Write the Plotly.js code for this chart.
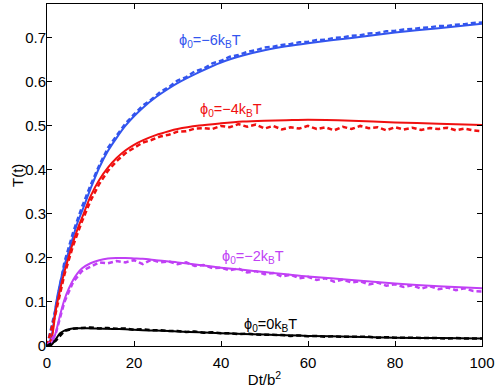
<!DOCTYPE html>
<html>
<head>
<meta charset="utf-8">
<script src="https://cdn.plot.ly/plotly-3.0.1.min.js"></script>
<style>
  body { margin: 0; padding: 0; background: #fff; }
  #graph { width: 498px; height: 388px; }
</style>
</head>
<body>
<div id="graph"></div>
<script>
// theory curves (solid)
var tFit = [0,1,2,3,4,5,6,7,8,10,12,14,16,18,20,22,25,28,30,35,40,45,50,55,60,70,80,90,100];
var fit6 = [0,0.02,0.092,0.143,0.183,0.215,0.248,0.28,0.305,0.357,0.405,0.443,0.473,0.5,0.522,0.541,0.565,0.585,0.597,0.622,0.644,0.66,0.672,0.681,0.688,0.70,0.712,0.722,0.732];
var fit4 = [0,0.015,0.08,0.128,0.168,0.203,0.236,0.265,0.29,0.34,0.377,0.405,0.427,0.444,0.457,0.467,0.479,0.488,0.493,0.501,0.506,0.51,0.512,0.513,0.514,0.512,0.508,0.505,0.502];
var fit2 = [0,0.005,0.03,0.07,0.105,0.13,0.15,0.165,0.176,0.188,0.195,0.199,0.2,0.2,0.199,0.198,0.195,0.192,0.19,0.184,0.178,0.173,0.168,0.163,0.158,0.15,0.142,0.136,0.131];
var fit0 = [0,0.002,0.015,0.029,0.035,0.038,0.04,0.0405,0.0405,0.04,0.0395,0.039,0.0385,0.038,0.037,0.036,0.035,0.034,0.033,0.031,0.029,0.0275,0.026,0.0245,0.023,0.021,0.019,0.018,0.017];

// simulation data (dashed)
var tSim = [0,2,4,6,8,10,12,14,16,18,20,22,24,26,28,30,32,34,36,38,40,42,44,46,48,50,52,54,56,58,60,62,64,66,68,70,72,74,76,78,80,82,84,86,88,90,92,94,96,98,100];
var sim6 = [0,0.085,0.19,0.258,0.315,0.365,0.41,0.45,0.478,0.505,0.526,0.546,0.56,0.577,0.588,0.603,0.611,0.624,0.63,0.642,0.648,0.657,0.661,0.668,0.672,0.678,0.68,0.684,0.686,0.69,0.691,0.695,0.696,0.7,0.701,0.705,0.706,0.71,0.711,0.715,0.716,0.719,0.72,0.723,0.724,0.727,0.727,0.73,0.731,0.734,0.735];
var sim4 = [0,0.075,0.162,0.228,0.282,0.33,0.368,0.398,0.42,0.438,0.45,0.462,0.468,0.476,0.48,0.487,0.488,0.494,0.495,0.493,0.5,0.497,0.504,0.498,0.503,0.494,0.5,0.492,0.497,0.494,0.5,0.493,0.497,0.49,0.498,0.493,0.5,0.495,0.497,0.49,0.497,0.492,0.496,0.491,0.495,0.493,0.496,0.49,0.494,0.49,0.488];
var sim2 = [0,0.028,0.1,0.145,0.17,0.18,0.19,0.188,0.193,0.19,0.195,0.186,0.196,0.19,0.192,0.186,0.19,0.182,0.184,0.177,0.178,0.172,0.176,0.167,0.17,0.163,0.166,0.158,0.162,0.154,0.157,0.15,0.154,0.146,0.151,0.144,0.147,0.14,0.144,0.137,0.14,0.134,0.138,0.13,0.136,0.129,0.133,0.127,0.131,0.125,0.124];
var sim0 = [0,0.012,0.034,0.039,0.041,0.042,0.04,0.041,0.039,0.04,0.037,0.038,0.036,0.036,0.034,0.034,0.032,0.033,0.03,0.031,0.029,0.029,0.027,0.028,0.026,0.026,0.025,0.025,0.023,0.024,0.022,0.023,0.021,0.022,0.021,0.021,0.02,0.021,0.019,0.02,0.019,0.019,0.018,0.019,0.018,0.018,0.017,0.018,0.017,0.017,0.017];

var labels = ['ϕ<sub>0</sub>=−6k<sub>B</sub>T', 'ϕ<sub>0</sub>=−4k<sub>B</sub>T', 'ϕ<sub>0</sub>=−2k<sub>B</sub>T', 'ϕ<sub>0</sub>=0k<sub>B</sub>T'];
var labelX = [29.9, 34.7, 39.8, 44.8];
var labelY = [0.692, 0.536, 0.203, 0.048];
var colors = ['#3355ee', '#f01010', '#c040f5', '#000000'];

var fits = [fit6, fit4, fit2, fit0];
var sims = [sim6, sim4, sim2, sim0];

var traces = [];
for (var i = 0; i < 4; i++) {
  traces.push({
    x: tSim, y: sims[i], type: 'scatter', mode: 'lines',
    line: {color: colors[i], width: 2.5, dash: '5px,3px'},
    hoverinfo: 'none'
  });
  traces.push({
    x: tFit, y: fits[i], type: 'scatter', mode: 'lines',
    line: {color: colors[i], width: 2, shape: 'spline', smoothing: 0.8},
    hoverinfo: 'none'
  });
}

var annots = [];
for (var j = 0; j < 4; j++) {
  annots.push({
    x: labelX[j], y: labelY[j], xref: 'x', yref: 'y',
    text: labels[j], showarrow: false,
    xanchor: 'left', yanchor: 'middle',
    font: {family: 'Liberation Sans, Arial, sans-serif', size: 14.5, color: colors[j]}
  });
}
// y axis title, placed by hand closer to the tick labels
annots.push({
  x: -0.069, y: 0.5, xref: 'paper', yref: 'paper',
  text: 'T(t)', showarrow: false, textangle: -90,
  xanchor: 'center', yanchor: 'middle',
  font: {family: 'Liberation Sans, Arial, sans-serif', size: 15, color: '#000'}
});

var layout = {
  width: 498, height: 388,
  margin: {l: 47, r: 16, t: 4, b: 42},
  showlegend: false,
  paper_bgcolor: '#fff', plot_bgcolor: '#fff',
  font: {family: 'Liberation Sans, Arial, sans-serif', size: 15, color: '#000'},
  xaxis: {
    range: [0, 100], dtick: 20, tick0: 0,
    ticks: 'inside', ticklen: 5, tickcolor: '#000',
    ticklabelstandoff: 3,
    showline: true, linecolor: '#000', linewidth: 1, mirror: 'ticks',
    showgrid: false, zeroline: false, automargin: false,
    title: {text: 'Dt/b<sup>2</sup>', font: {size: 15}}
  },
  yaxis: {
    range: [0, 0.777], dtick: 0.1, tick0: 0,
    ticks: 'inside', ticklen: 5, tickcolor: '#000',
    ticklabelstandoff: -3,
    showline: true, linecolor: '#000', linewidth: 1, mirror: 'ticks',
    showgrid: false, zeroline: false, automargin: false
  },
  annotations: annots
};

Plotly.newPlot('graph', traces, layout, {staticPlot: true});
</script>
</body>
</html>
